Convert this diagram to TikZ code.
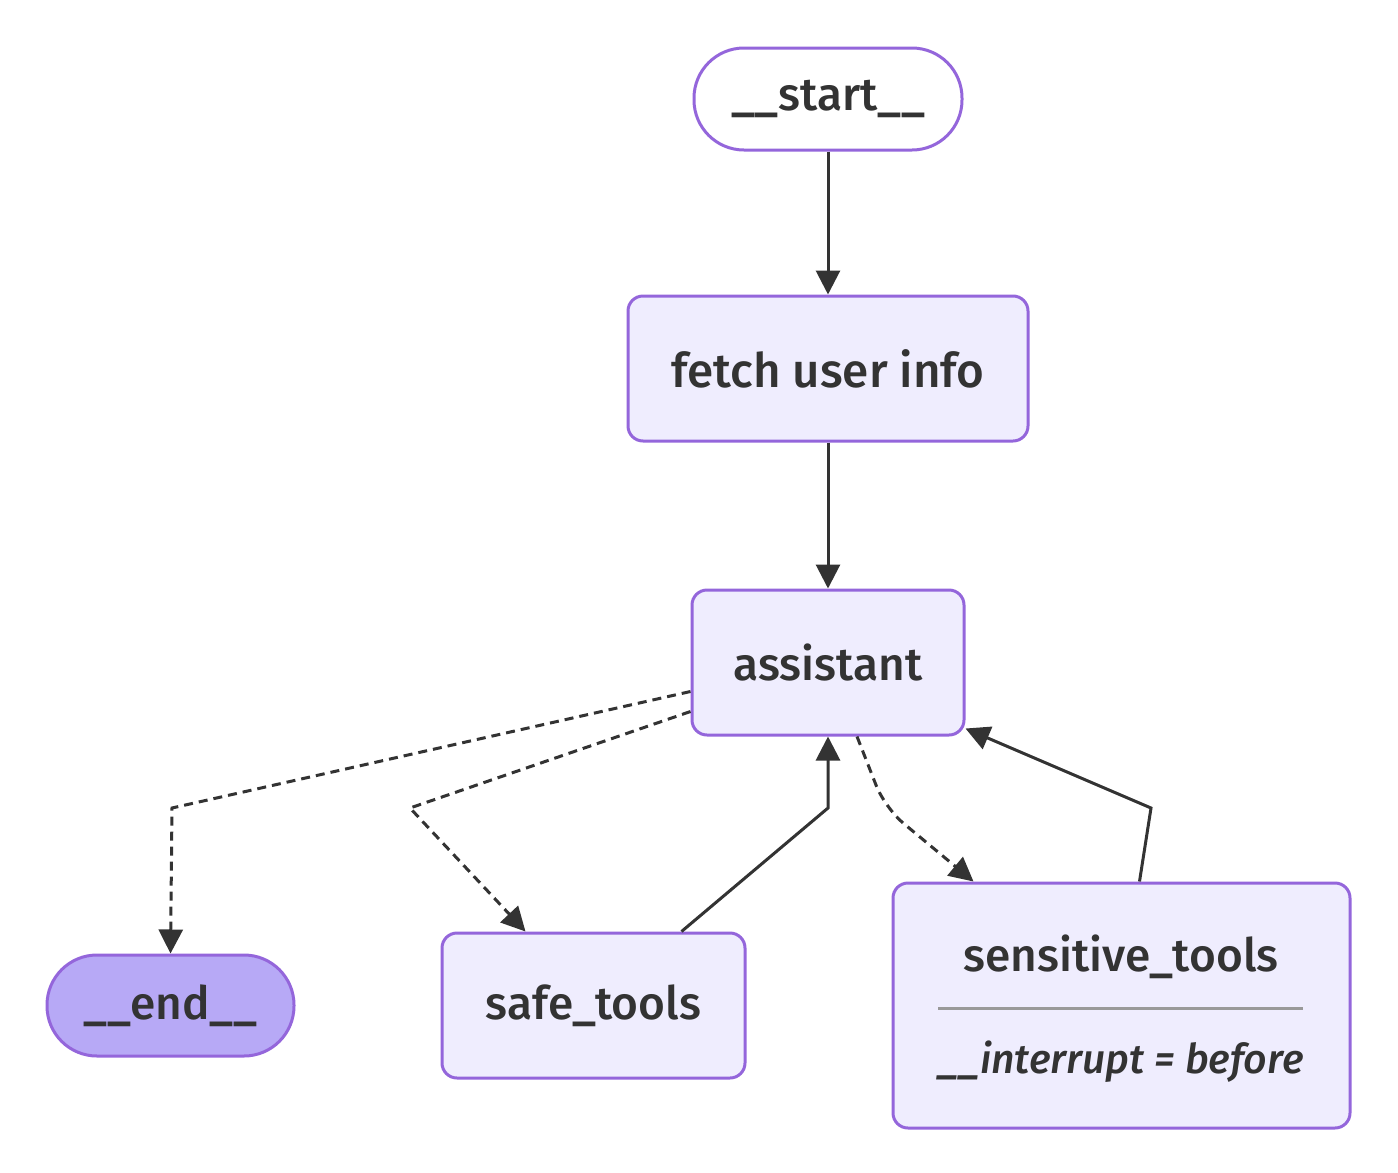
\documentclass[tikz,border=0pt]{standalone}
\usepackage{fontspec}
\setmainfont{Fira Sans Medium}[ItalicFont={Fira Sans Medium Italic}]
\usetikzlibrary{arrows.meta}
\definecolor{nodefill}{HTML}{EFEDFE}
\definecolor{nodeline}{HTML}{9466DB}
\definecolor{endfill}{HTML}{B7A9F6}
\definecolor{ink}{HTML}{333333}
\definecolor{sepgray}{HTML}{999999}
\tikzset{
  box/.style={draw=nodeline, line width=1.5pt, fill=nodefill, rounded corners=7.5pt,
    inner sep=0pt, text=ink, font=\fontsize{23}{27}\selectfont},
  pill/.style={box, rounded corners=25pt},
  plain/.style={inner sep=0pt, text=ink, font=\fontsize{23}{27}\selectfont},
  edge/.style={draw=ink, line width=1.5pt, -{Triangle[length=12pt,width=12pt]}},
  dedge/.style={edge, dash pattern=on 4.5pt off 3pt},
}
\begin{document}
\begin{tikzpicture}[x=0.5pt,y=-0.5pt]
\useasboundingbox (0,0) rectangle (1398,1173);
\node[pill, fill=white, minimum width=134pt, minimum height=51pt] (start) at (828,99) {\_\_start\_\_};
\node[box, minimum width=200pt, minimum height=72.5pt, font=\fontsize{23.8}{28}\selectfont] (fetch) at (828,368.5) {fetch user info};
\node[box, minimum width=136pt, minimum height=72.5pt] (assistant) at (828,662.5) {assistant};
\node[pill, fill=endfill, minimum width=123.5pt, minimum height=50.5pt] (end) at (170.5,1005.5) {\_\_end\_\_};
\node[box, minimum width=151.5pt, minimum height=72.5pt] (safe) at (593.5,1005.5) {safe\_tools};
\node[box, minimum width=228.5pt, minimum height=122.5pt] (sens) at (1121.5,1005.5) {};
\node[plain] (senstitle) at (1121,957) {sensitive\_tools};
\node[plain, font=\fontsize{20.5}{24}\selectfont\itshape] (sensint) at (1121,1062) {\_\_interrupt = before};
\coordinate (sepL) at (938,1008);
\coordinate (sepR) at (1303,1008);
\draw[sepgray, line width=1.5pt] (sepL) -- (sepR);

\coordinate (b1) at (172,808);
\coordinate (b2) at (410,808);
\coordinate (b3) at (885,808);
\coordinate (b4) at (828,808);
\coordinate (b5) at (1151,808);

\draw[edge] (start.south) -- (fetch.north);
\draw[edge] (fetch.south) -- (assistant.north);
\draw[dedge] ([yshift=-14.5pt]assistant.west) -- (b1) -- (end.north);
\draw[dedge] ([yshift=-24.5pt]assistant.west) -- (b2) -- ([xshift=42.5pt]safe.north west);
\draw[dedge, rounded corners=12pt] ([xshift=14.5pt]assistant.south) -- (b3) -- ([xshift=41pt]sens.north west);
\draw[edge] ([xshift=-32.5pt]safe.north east) -- (b4) -- (assistant.south);
\draw[edge] ([xshift=9pt]sens.north) -- (b5) -- ([yshift=4pt]assistant.south east);
\end{tikzpicture}
\end{document}
